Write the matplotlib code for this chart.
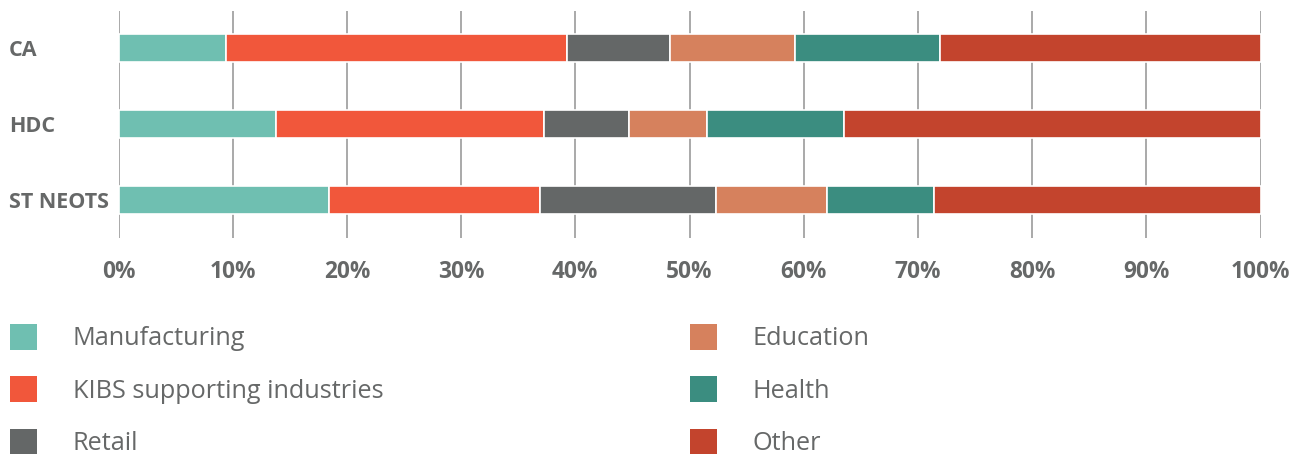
import matplotlib
matplotlib.use("Agg")
import matplotlib.pyplot as plt
from matplotlib.patches import Patch
import numpy as np

plt.rcParams["font.family"] = ["Open Sans", "DejaVu Sans"]

# Share of employment by sector (%)
regions = ["CA", "HDC", "ST NEOTS"]
sectors = ["Manufacturing", "KIBS supporting industries", "Retail",
           "Education", "Health", "Other"]
manufacturing = [9.4, 13.8, 18.4]
kibs = [29.9, 23.5, 18.5]
retail = [9.0, 7.4, 15.4]
education = [10.9, 6.8, 9.7]
health = [12.7, 12.0, 9.4]
other = [28.1, 36.5, 28.6]

colors = ["#6fbfb1", "#f1573b", "#646767", "#d6815d", "#3b8d80", "#c3442d"]
text_grey = "#666868"

series = [manufacturing, kibs, retail, education, health, other]

W, H = 1304, 457
fig = plt.figure(figsize=(W / 100, H / 100), dpi=100)
ax = fig.add_axes([118.5 / W, (H - 238) / H, (1260.5 - 118.5) / W, (238 - 11) / H])

y = np.arange(len(regions))
left = np.zeros(len(regions))
for vals, col in zip(series, colors):
    ax.barh(y, vals, left=left, height=0.37, color=col,
            edgecolor="white", linewidth=1.2, zorder=3)
    left += np.array(vals)

ax.set_xlim(0, 100)
ax.set_ylim(2.5, -0.49)
ax.set_xticks(np.arange(0, 101, 10))
ax.set_xticklabels([f"{v}%" for v in range(0, 101, 10)],
                   fontsize=16.3, fontweight="bold", color=text_grey)
ax.set_yticks(y)
ax.set_yticklabels(regions, fontsize=15.5, fontweight="bold", color=text_grey, ha="left")
ax.tick_params(axis="x", length=0, pad=16)
ax.tick_params(axis="y", length=0, pad=78.8)
ax.grid(axis="x", color="#a2a2a2", linewidth=1.3, zorder=0)
ax.set_axisbelow(True)
for s in ax.spines.values():
    s.set_visible(False)

handles = [Patch(facecolor=c, edgecolor="none") for c in colors]
fs = 18.2
px = fs * 100 / 72
fig.legend(handles, sectors, ncol=2, loc="upper left",
           bbox_to_anchor=(10 / W, (H - 324) / H), frameon=False,
           fontsize=fs, labelcolor=text_grey,
           handlelength=27 / px, handleheight=30 / px,
           handletextpad=36 / px, labelspacing=(53 - 28) / px,
           columnspacing=(690 - 384) / px, borderpad=0, borderaxespad=0)

fig.savefig("out.png", dpi=100, facecolor="white")
